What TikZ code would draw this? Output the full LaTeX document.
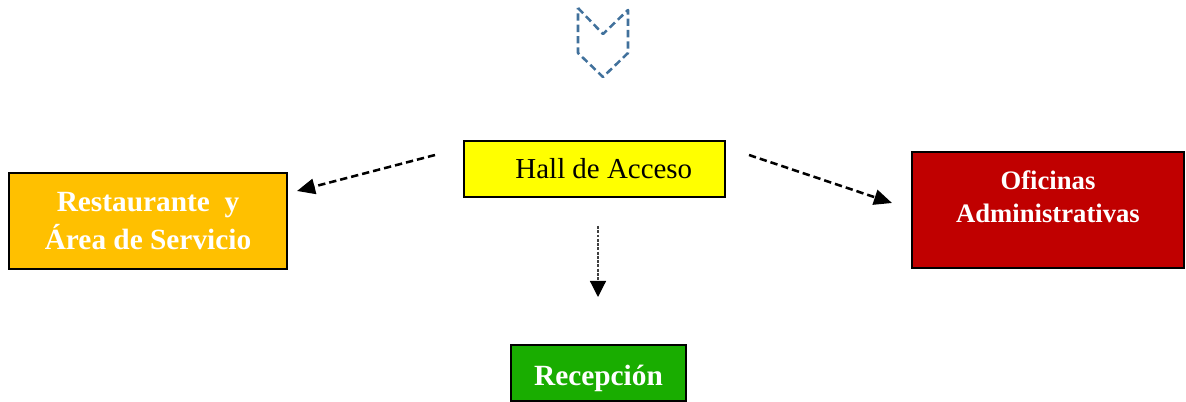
\documentclass[tikz,border=0pt]{standalone}
\usepackage{fontspec}
\setmainfont{Liberation Serif}
\usepackage{tikz}
\usetikzlibrary{shapes,arrows,positioning,calc}
\usetikzlibrary{arrows.meta}

\definecolor{hallyellow}{HTML}{FFFF00}
\definecolor{restorange}{HTML}{FFC000}
\definecolor{officered}{HTML}{C00000}
\definecolor{recepgreen}{HTML}{19AD00}
\definecolor{chevblue}{HTML}{41719C}

\tikzset{
  area/.style={draw=black, line width=1pt, align=center, inner sep=2pt},
  whitebold/.style={text=white, font=\fontsize{22}{28}\selectfont\bfseries},
  flow/.style={line width=1.9pt, dash pattern=on 5.5pt off 3pt,
    -{Triangle[length=13.5pt,width=11.5pt]}},
  thinflow/.style={line width=0.9pt, draw=black!75, dash pattern=on 2.2pt off 1pt,
    -{Triangle[length=12pt,width=12pt,color=black]}}
}

\begin{document}
\begin{tikzpicture}[x=0.75pt,y=-0.75pt]
  \useasboundingbox (0,0) rectangle (1186,402);
  % entrance mark
  \draw[chevblue, line width=1.9pt, dash pattern=on 5.5pt off 3pt, line join=round]
    (578,8) -- (603,34) -- (628,10) -- (628,53) -- (603,77) -- (578,53) -- cycle;
  % areas
  \node[area, fill=hallyellow, minimum width=195.75pt, minimum height=42pt,
        font=\fontsize{21.7}{26}\selectfont] (hall) at (594.5,169) {\hspace{14pt}Hall de Acceso};
  \node[area, whitebold, fill=restorange, minimum width=208.5pt, minimum height=72pt,
        font=\fontsize{22}{29}\selectfont\bfseries] (rest) at (148,221) {Restaurante\ \ y\\Área de Servicio};
  \node[area, whitebold, fill=officered, minimum width=204pt, minimum height=87pt,
        font=\fontsize{20}{25}\selectfont\bfseries] (ofic) at (1048,210) {Oficinas\\Administrativas\\[-5pt]};
  \node[area, whitebold, fill=recepgreen, minimum width=131.25pt, minimum height=42pt] (recep) at (598.5,373) {\raisebox{-4pt}[\height][\depth]{Recepción}};
  % arrow ends
  \coordinate (l0) at (435,155);
  \coordinate (l1) at (297,191);
  \coordinate (r0) at (749,155);
  \coordinate (r1) at (892,203);
  \coordinate (d0) at (598,226);
  \coordinate (d1) at (598,297);
  \draw[flow] (l0) -- (l1);
  \draw[flow] (r0) -- (r1);
  \draw[thinflow] (d0) -- (d1);
\end{tikzpicture}
\end{document}
